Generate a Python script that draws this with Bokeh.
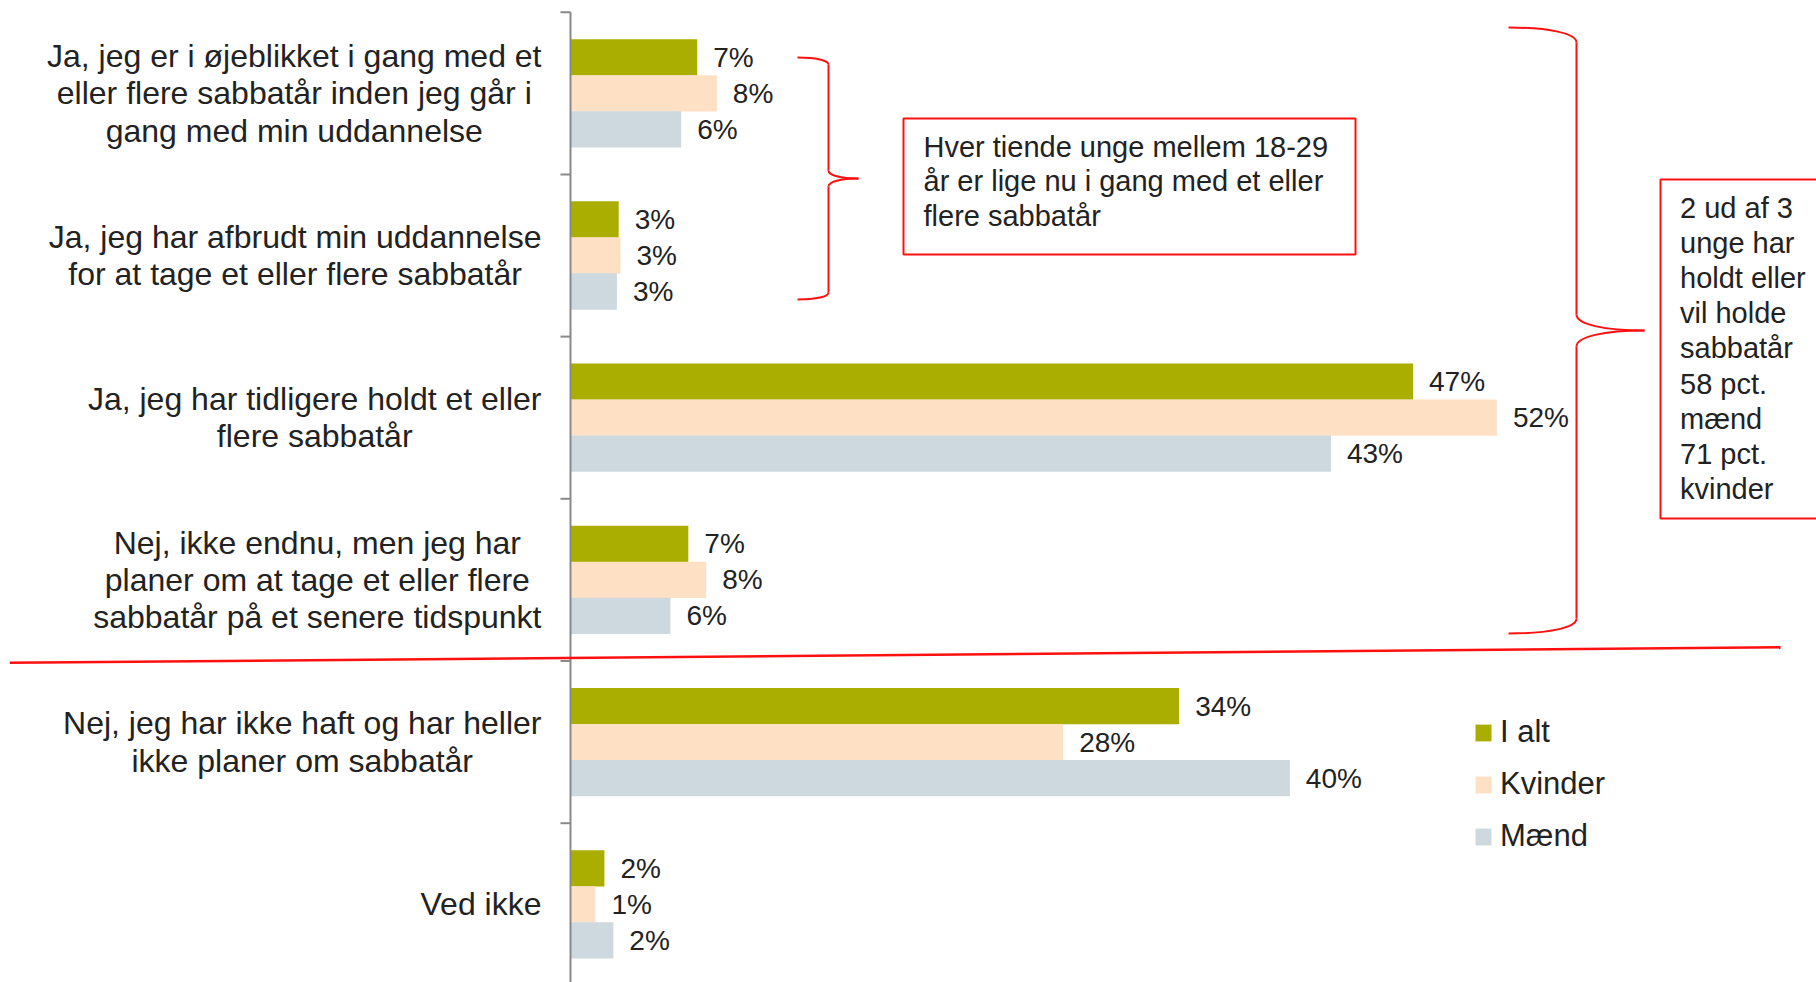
from bokeh.plotting import figure
from bokeh.models import ColumnDataSource, Range1d, Legend, LegendItem
from bokeh.core.properties import value
from bokeh.embed import file_html
from bokeh.resources import INLINE

# ---------------- data ----------------
categories = [
    "Ja, jeg er i øjeblikket i gang med et\neller flere sabbatår inden jeg går i\ngang med min uddannelse",
    "Ja, jeg har afbrudt min uddannelse\nfor at tage et eller flere sabbatår",
    "Ja, jeg har tidligere holdt et eller\nflere sabbatår",
    "Nej, ikke endnu, men jeg har\nplaner om at tage et eller flere\nsabbatår på et senere tidspunkt",
    "Nej, jeg har ikke haft og har heller\nikke planer om sabbatår",
    "Ved ikke",
]
series = ["I alt", "Kvinder", "Mænd"]
i_alt = [7.1, 2.7, 47.2, 6.6, 34.1, 1.9]
kvinder = [8.2, 2.8, 51.9, 7.6, 27.6, 1.4]
maend = [6.2, 2.6, 42.6, 5.6, 40.3, 2.4]

box1_text = "Hver tiende unge mellem 18-29\når er lige nu i gang med et eller\nflere sabbatår"
box2_text = "2 ud af 3\nunge har\nholdt eller\nvil holde\nsabbatår\n58 pct.\nmænd\n71 pct.\nkvinder"

# ---------------- style / layout ----------------
colors = ["#A9AE00", "#FEE0C4", "#CDD8DF"]
FONT = "Liberation Sans"
TXT = "#222222"
RED = "#FF1010"
W, H = 1816, 982
OFF = 0
PX_PER_PCT = 17.85
AXIS_X = 570
TOP = 11.7
CAT_H = 162.2

x_range = Range1d((OFF - AXIS_X) / PX_PER_PCT, (OFF + W - AXIS_X) / PX_PER_PCT)
y_range = Range1d((OFF + H - TOP) / CAT_H, (OFF - TOP) / CAT_H)

p = figure(width=W, height=H, x_range=x_range, y_range=y_range,
           output_backend="svg", toolbar_location=None, min_border=0,
           x_axis_location=None, y_axis_location=None)
p.extra_x_ranges["px"] = Range1d(OFF, OFF + W)
p.extra_y_ranges["px"] = Range1d(OFF + H, OFF)
p.grid.visible = False
p.outline_line_color = None
p.background_fill_color = "white"
p.border_fill_color = "white"

n = len(categories)
bar_h = 0.222
offsets = [-bar_h, 0.0, bar_h]
renderers = []
for s, vals, col, off in zip(series, [i_alt, kvinder, maend], colors, offsets):
    src = ColumnDataSource(dict(
        y=[i + 0.5 + off for i in range(n)],
        v=vals,
        lab=[f"{round(v)}%" for v in vals],
    ))
    r = p.hbar(y="y", left=0, right="v", height=bar_h + 0.002, source=src,
               fill_color=col, line_color=None)
    renderers.append(r)
    p.text(x="v", y="y", text="lab", source=src, x_offset=16,
           text_baseline="middle", text_align="left",
           text_font=value(FONT), text_font_size="28px", text_color=TXT)

# category labels (lines centred, block right-aligned next to the axis)
cat_src = ColumnDataSource(dict(x=[AXIS_X - 29] * n, y=[i + 0.5 for i in range(n)], t=categories))
p.text(x="x", y="y", text="t", source=cat_src, x_range_name="px",
       text_align="center", anchor="center_right", text_baseline="middle",
       text_font=value(FONT), text_font_size="32px", text_color=TXT,
       text_line_height=1.035)

# axis line and ticks
p.segment(x0=[AXIS_X], y0=[TOP], x1=[AXIS_X], y1=[OFF + H + 20],
          x_range_name="px", y_range_name="px", line_color="#898989", line_width=2)
p.segment(x0=[AXIS_X - 10] * (n + 1), x1=[AXIS_X] * (n + 1),
          y0=list(range(n + 1)), y1=list(range(n + 1)),
          x_range_name="px", line_color="#898989", line_width=2)

# red separator line
p.line(x=[9.3, 1780], y=[662.3, 646.7], x_range_name="px", y_range_name="px",
       line_color=RED, line_width=2.5)


def brace(x_tip, x_spine, x_point, y_top, y_mid, y_bot, r, rm):
    dx = x_spine - x_tip
    dp = x_point - x_spine
    bz = dict(x0=[], y0=[], x1=[], y1=[], cx0=[], cy0=[], cx1=[], cy1=[])

    def add(a, b, c0, c1):
        bz["x0"].append(a[0]); bz["y0"].append(a[1])
        bz["x1"].append(b[0]); bz["y1"].append(b[1])
        bz["cx0"].append(c0[0]); bz["cy0"].append(c0[1])
        bz["cx1"].append(c1[0]); bz["cy1"].append(c1[1])

    add((x_tip, y_top), (x_spine, y_top + r), (x_tip + 0.6 * dx, y_top), (x_spine, y_top + 0.4 * r))
    add((x_spine, y_mid - rm), (x_point, y_mid), (x_spine, y_mid - 0.4 * rm), (x_spine + 0.4 * dp, y_mid))
    add((x_spine, y_mid + rm), (x_point, y_mid), (x_spine, y_mid + 0.4 * rm), (x_spine + 0.4 * dp, y_mid))
    add((x_tip, y_bot), (x_spine, y_bot - r), (x_tip + 0.6 * dx, y_bot), (x_spine, y_bot - 0.4 * r))
    seg = dict(x0=[x_spine, x_spine], y0=[y_top + r, y_mid + rm],
               x1=[x_spine, x_spine], y1=[y_mid - rm, y_bot - r])
    p.bezier(source=ColumnDataSource(bz), x_range_name="px", y_range_name="px",
             line_color=RED, line_width=2)
    p.segment(source=ColumnDataSource(seg), x_range_name="px", y_range_name="px",
              line_color=RED, line_width=2)


brace(797, 828, 858, 57, 178, 299, 7, 8)
brace(1508, 1576, 1644, 27, 330, 633, 15, 16)

# annotation boxes
p.quad(left=[903, 1660], right=[1355, 1900], top=[118, 179], bottom=[254, 518],
       x_range_name="px", y_range_name="px", fill_color=None,
       line_color=RED, line_width=2)
p.text(x=[923], y=[181], text=[box1_text], x_range_name="px", y_range_name="px",
       text_align="left", text_baseline="middle", text_font=value(FONT),
       text_font_size="29px", text_color=TXT, text_line_height=1.07)
p.text(x=[1679.5], y=[348], text=[box2_text], x_range_name="px", y_range_name="px",
       text_align="left", text_baseline="middle", text_font=value(FONT),
       text_font_size="29px", text_color=TXT, text_line_height=1.098)

legend = Legend(
    items=[LegendItem(label=s, renderers=[r]) for s, r in zip(series, renderers)],
    location=(1473 - OFF, 128), orientation="vertical",
    background_fill_alpha=0, border_line_color=None,
    glyph_width=20, glyph_height=21, label_standoff=7,
    label_text_font=FONT, label_text_font_size="31px", label_text_color=TXT,
    label_height=34, spacing=16, padding=0, margin=0,
)
p.add_layout(legend)

open("out.html", "w").write(file_html(p, INLINE))
